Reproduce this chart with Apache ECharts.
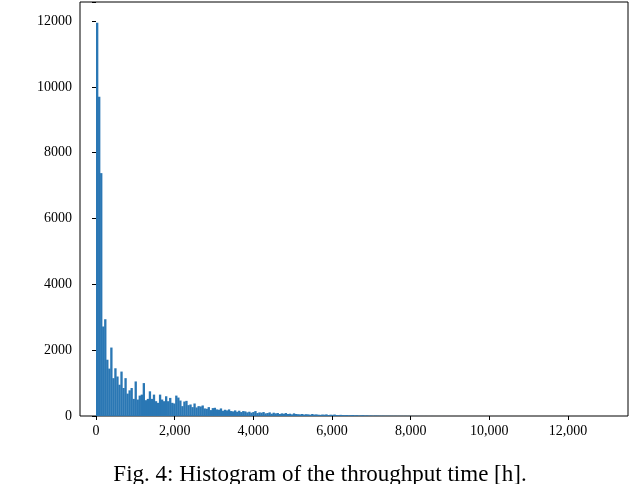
<!DOCTYPE html><html><head><meta charset="utf-8">
<script src="https://cdn.jsdelivr.net/npm/echarts@6/dist/echarts.min.js"></script>
<style>body{margin:0;background:#fff}#c{width:640px;height:484px}</style></head><body><div id="c"></div>
<script>
const binWidth = 51.6;
const counts = [11950,9700,7380,2720,2940,1710,1440,2080,1150,1450,1200,950,1350,850,1150,680,780,850,520,1050,
500,620,650,1000,480,520,750,520,650,450,400,650,500,450,600,450,550,400,380,620,
560,470,300,440,460,330,350,270,380,260,300,290,320,230,220,270,180,240,250,200,
190,230,160,190,170,200,150,140,170,130,160,120,150,140,110,130,100,120,150,90,
110,100,120,80,90,110,70,100,80,90,60,80,70,90,60,70,50,80,60,55,
50,60,45,55,50,40,60,45,50,40,35,45,40,50,30,40,35,45,30,25,
35,30,25,30,20,25,30,20,25,15,20,25,15,20,12,15,10,14,12,10,
8,10,6,8,7,6,5,6,4,5,4,3,5,3,4,2,3,2,3,2,
2,1,2,1,1,2,1,0,1,1,0,1,0,1,0,0,1,0,0,1,
0,0,1,0,0,0,1,0,0,0,0,1,0,0,0,0,0,1,0,0,
0,0,0,0,1,0,0,0,0,0,0,0,1,0,0,0,0,0,0,0,
0,0,0,0,0,0,0,0,1,0,0,0,0,0,0,0,0,0,0,1];
const xTicks = [0,2000,4000,6000,8000,10000,12000];
const data = counts.map((c,i)=>[i*binWidth,(i+1)*binWidth,c]);
const chart = echarts.init(document.getElementById('c'));
const font = {fontFamily:'Liberation Serif',fontSize:14,color:'#000'};
chart.setOption({
  animation:false,
  grid:{left:80,right:12,top:2,bottom:68,show:true,borderColor:'#000',borderWidth:1},
  xAxis:{type:'value',min:-407,max:13527,splitLine:{show:false},
    axisLine:{show:false},
    axisTick:{show:true,length:4,lineStyle:{color:'#000'},customValues:xTicks},
    axisLabel:{...font,margin:8,customValues:xTicks}},
  yAxis:{type:'value',min:0,max:12580,interval:2000,splitLine:{show:false},
    axisLine:{show:false},axisTick:{show:true,length:4,lineStyle:{color:'#000'}},
    axisLabel:{...font,margin:8,formatter:v=>v%2000===0?String(v):''}},
  series:[{type:'custom',data:data,encode:{x:[0,1],y:2},
    renderItem:(p,api)=>{
      const a=api.coord([api.value(0),api.value(2)]);
      const b=api.coord([api.value(1),0]);
      return {type:'rect',shape:{x:a[0],y:a[1],width:b[0]-a[0]+0.3,height:b[1]-a[1]},style:{fill:'#2a77b4'}};
    }}],
  graphic:[{type:'text',left:'center',top:463,style:{text:'Fig. 4: Histogram of the throughput time [h].',font:'23px "Liberation Serif"',fill:'#000'}}]
});
</script></body></html>
